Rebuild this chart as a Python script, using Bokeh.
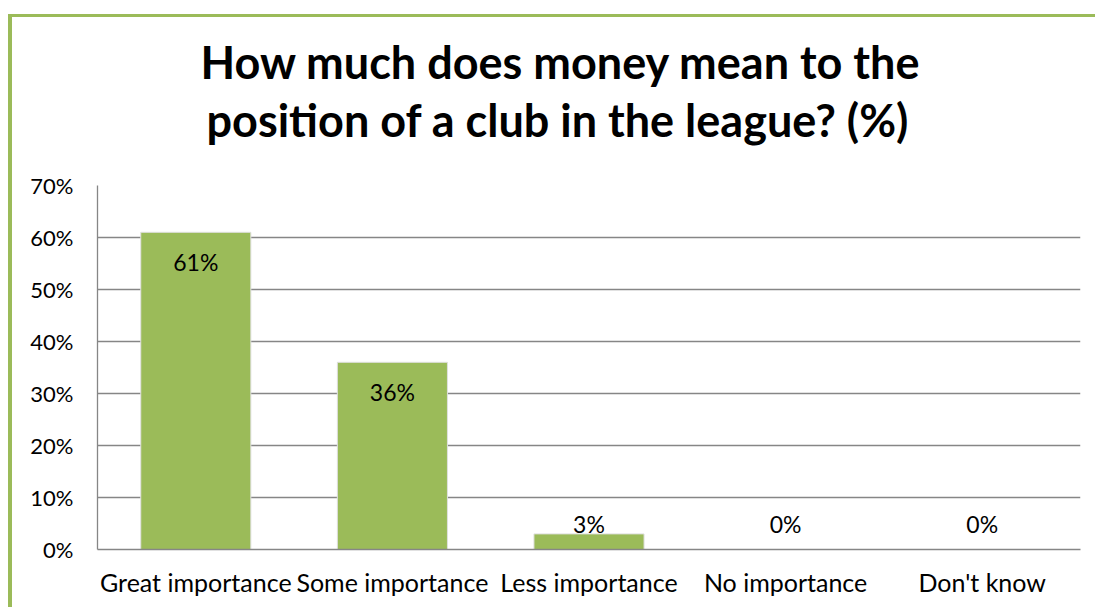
from bokeh.plotting import figure
from bokeh.models import ColumnDataSource, Title, FixedTicker, CustomJSTickFormatter
from bokeh.core.properties import value
from bokeh.embed import file_html
from bokeh.resources import INLINE

categories = ["Great importance", "Some importance", "Less importance", "No importance", "Don't know"]
percent = [61, 36, 3, 0, 0]
y_ticks = [0, 10, 20, 30, 40, 50, 60, 70]
title_lines = ["How much does money mean to the", "position of a club in the league? (%)"]

FONT = "Lato"
GREEN = "#9BBB59"

label_y = [max(v - 5.75, 5) for v in percent]
src = ColumnDataSource(dict(cat=categories, val=percent,
                            lab=[f"{v}%" for v in percent], ly=label_y))

p = figure(x_range=categories, y_range=(0, 70), width=1087, height=593,
           output_backend="svg", toolbar_location=None, title=None,
           min_border_left=85, min_border_right=19, min_border_top=168, min_border_bottom=61)
p.margin = (17, 0, 0, 12)
p.styles = {"box-shadow": "-4px -3px 0 0 #9BBB59"}

p.vbar(x="cat", top="val", width=0.56, source=src, fill_color=GREEN, line_color="#E0E0E0", line_width=1)
p.text(x="cat", y="ly", text="lab", source=src, text_align="center", text_baseline="middle",
       text_font=value(FONT), text_font_size="23px", text_color="black")

p.outline_line_color = None
p.background_fill_color = "white"
p.border_fill_color = "white"
p.xgrid.grid_line_color = None
p.ygrid.grid_line_color = "#868686"
p.ygrid.grid_line_width = 1.3
p.yaxis.ticker = FixedTicker(ticks=y_ticks)
p.yaxis.formatter = CustomJSTickFormatter(code="return tick + '%'")
for ax in (p.xaxis, p.yaxis):
    ax.axis_line_color = "#868686"
    ax.axis_line_width = 1.3
    ax.major_tick_line_color = None
    ax.minor_tick_line_color = None
    ax.major_label_text_font = FONT
    ax.major_label_text_color = "black"
p.yaxis.major_label_text_font_size = "22px"
p.xaxis.major_label_text_font_size = "25px"
p.yaxis.major_label_standoff = 18
p.xaxis.major_label_standoff = 11

# title: second line added first so it sits nearest the plot
for txt, sd, off in zip(reversed(title_lines), [78, -74], [109, 103]):
    p.add_layout(Title(text=txt, align="left", offset=off, standoff=sd, text_font=FONT,
                       text_font_style="bold", text_font_size="45px", text_color="black"), "above")

open("out.html", "w").write(file_html(p, INLINE))
